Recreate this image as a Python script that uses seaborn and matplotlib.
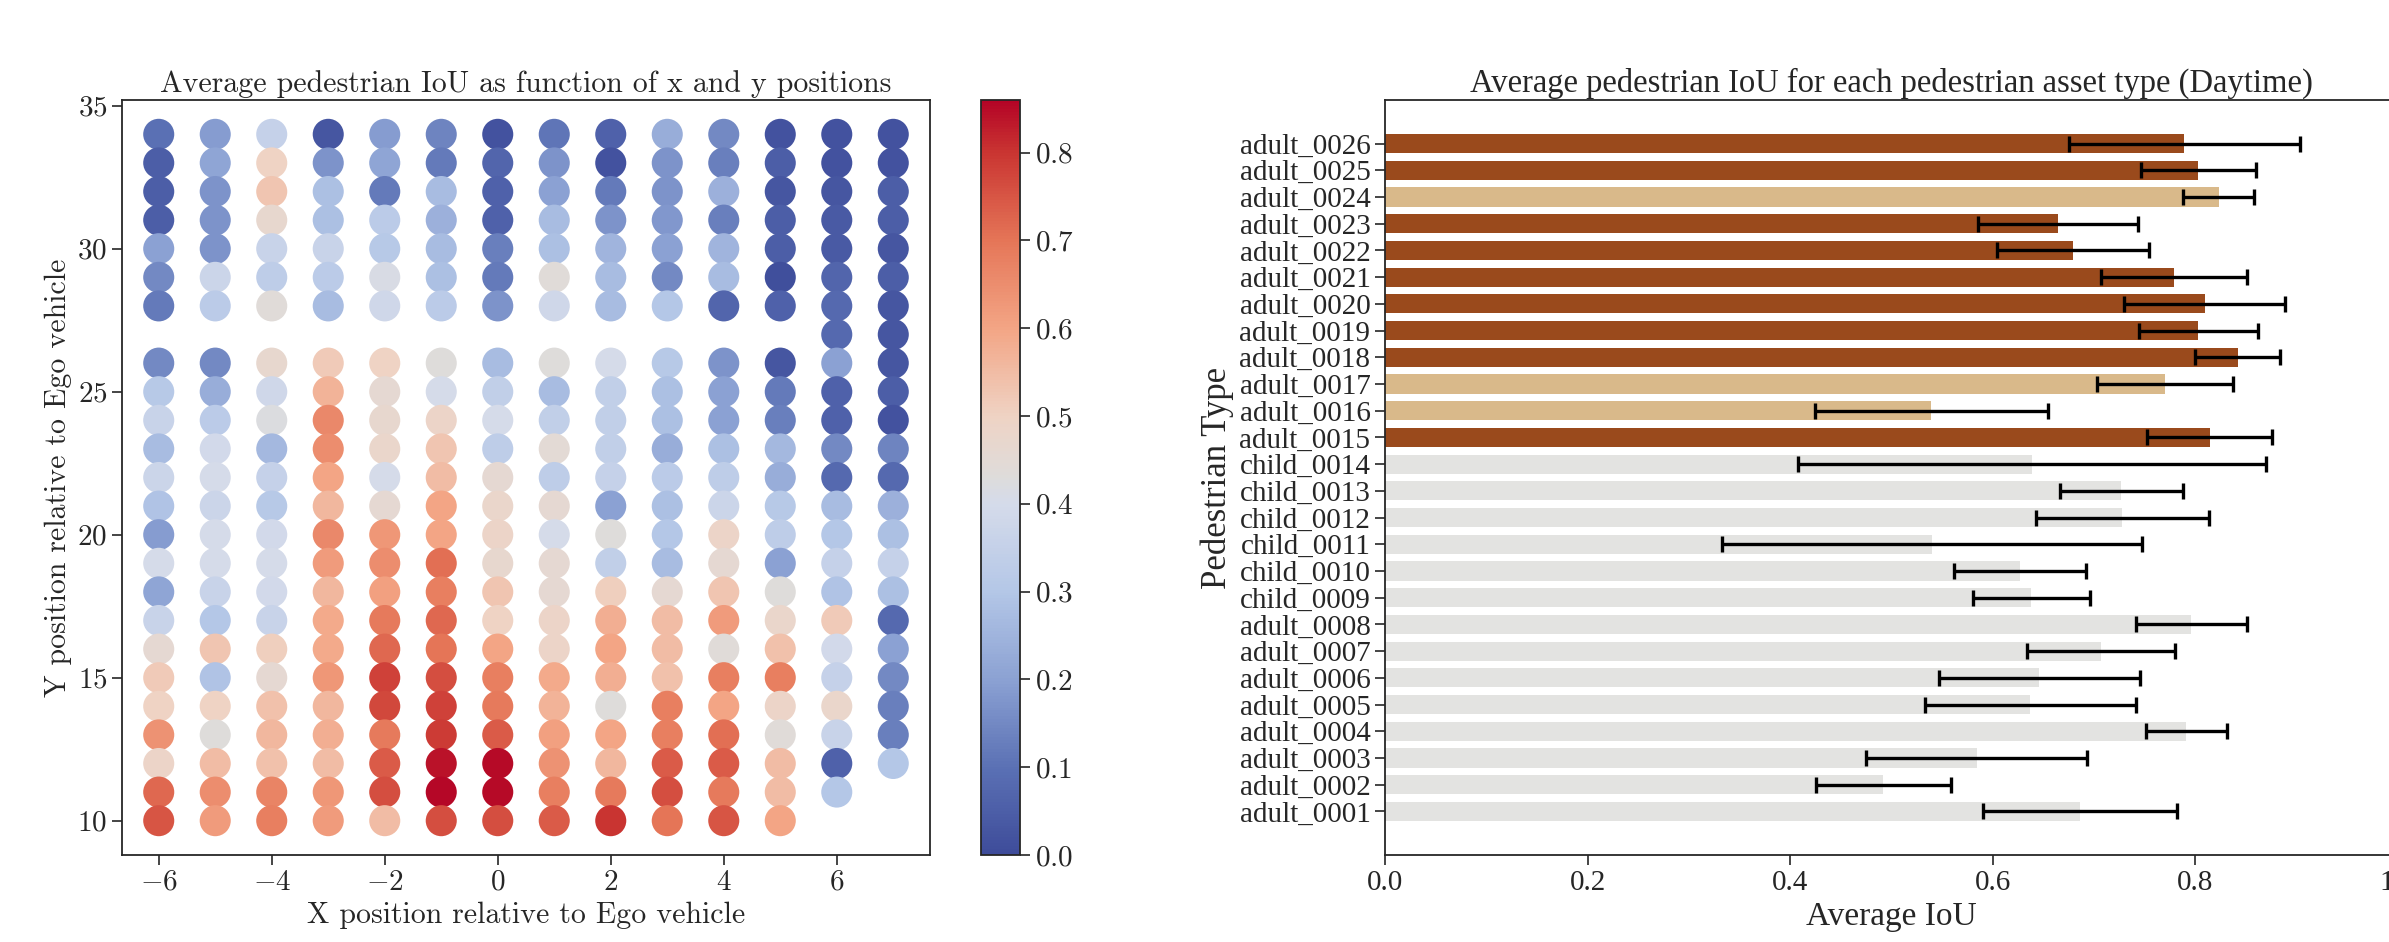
import numpy as np
import pandas as pd
import matplotlib
matplotlib.use('Agg')
import matplotlib.pyplot as plt
from matplotlib.ticker import FuncFormatter, MultipleLocator
from matplotlib.colors import Normalize, LinearSegmentedColormap
from matplotlib.cm import ScalarMappable
import seaborn as sns

nan = np.nan

# ---- left panel: average IoU on the x/y grid ----
x_positions = list(range(-6, 8))
y_positions = [34, 33, 32, 31, 30, 29, 28, 27, 26, 25, 24, 23, 22, 21, 20, 19, 18, 17, 16, 15, 14, 13, 12, 11, 10]

# one list per x column, top (y=34) to bottom (y=10); nan = no sample there
iou_xm6 = [0.10, 0.05, 0.05, 0.05, 0.20, 0.15, 0.12, nan, 0.15, 0.31, 0.36, 0.27, 0.37, 0.29, 0.19, 0.40, 0.21, 0.36, 0.46, 0.52, 0.50, 0.64, 0.49, 0.72, 0.75]
iou_xm5 = [0.19, 0.21, 0.17, 0.17, 0.17, 0.37, 0.32, nan, 0.15, 0.23, 0.32, 0.39, 0.40, 0.37, 0.40, 0.40, 0.36, 0.30, 0.53, 0.29, 0.50, 0.43, 0.55, 0.65, 0.62]
iou_xm4 = [0.35, 0.50, 0.53, 0.47, 0.36, 0.33, 0.44, nan, 0.47, 0.38, 0.42, 0.26, 0.35, 0.31, 0.39, 0.40, 0.39, 0.36, 0.51, 0.46, 0.54, 0.56, 0.54, 0.67, 0.68]
iou_xm3 = [0.03, 0.17, 0.28, 0.28, 0.36, 0.32, 0.27, nan, 0.52, 0.57, 0.66, 0.65, 0.60, 0.56, 0.66, 0.62, 0.56, 0.59, 0.59, 0.63, 0.56, 0.58, 0.55, 0.63, 0.62]
iou_xm2 = [0.19, 0.21, 0.12, 0.32, 0.31, 0.41, 0.38, nan, 0.50, 0.46, 0.47, 0.48, 0.40, 0.46, 0.63, 0.65, 0.61, 0.69, 0.72, 0.78, 0.77, 0.69, 0.74, 0.76, 0.55]
iou_xm1 = [0.14, 0.12, 0.27, 0.24, 0.27, 0.28, 0.32, nan, 0.43, 0.40, 0.49, 0.53, 0.55, 0.60, 0.60, 0.71, 0.68, 0.72, 0.70, 0.76, 0.78, 0.79, 0.84, 0.855, 0.76]
iou_x0 = [0.02, 0.07, 0.06, 0.06, 0.13, 0.12, 0.17, nan, 0.27, 0.34, 0.40, 0.33, 0.46, 0.48, 0.49, 0.47, 0.53, 0.50, 0.60, 0.68, 0.69, 0.74, 0.85, 0.85, 0.76]
iou_x1 = [0.11, 0.17, 0.20, 0.27, 0.28, 0.44, 0.38, nan, 0.43, 0.27, 0.34, 0.45, 0.33, 0.46, 0.40, 0.46, 0.46, 0.49, 0.49, 0.59, 0.57, 0.61, 0.64, 0.68, 0.74]
iou_x2 = [0.06, 0.02, 0.12, 0.17, 0.25, 0.27, 0.27, nan, 0.40, 0.34, 0.34, 0.34, 0.35, 0.20, 0.43, 0.34, 0.51, 0.58, 0.60, 0.58, 0.43, 0.60, 0.56, 0.69, 0.80]
iou_x3 = [0.23, 0.17, 0.17, 0.18, 0.20, 0.15, 0.30, nan, 0.31, 0.28, 0.28, 0.23, 0.32, 0.28, 0.30, 0.27, 0.46, 0.55, 0.55, 0.54, 0.68, 0.68, 0.74, 0.76, 0.70]
iou_x4 = [0.15, 0.13, 0.24, 0.13, 0.25, 0.27, 0.07, nan, 0.17, 0.20, 0.20, 0.28, 0.33, 0.37, 0.49, 0.46, 0.53, 0.62, 0.44, 0.68, 0.60, 0.71, 0.74, 0.69, 0.75]
iou_x5 = [0.02, 0.05, 0.03, 0.05, 0.05, 0.01, 0.06, nan, 0.03, 0.12, 0.13, 0.26, 0.23, 0.31, 0.33, 0.20, 0.43, 0.48, 0.54, 0.68, 0.49, 0.44, 0.55, 0.55, 0.60]
iou_x6 = [0.02, 0.02, 0.03, 0.04, 0.04, 0.07, 0.08, 0.08, 0.20, 0.06, 0.06, 0.15, 0.08, 0.27, 0.30, 0.35, 0.29, 0.52, 0.39, 0.35, 0.48, 0.36, 0.06, 0.30, nan]
iou_x7 = [0.02, 0.02, 0.05, 0.05, 0.03, 0.05, 0.03, 0.03, 0.03, 0.05, 0.02, 0.14, 0.08, 0.24, 0.28, 0.35, 0.28, 0.08, 0.20, 0.15, 0.13, 0.13, 0.30, nan, nan]

iou_columns = [iou_xm6, iou_xm5, iou_xm4, iou_xm3, iou_xm2, iou_xm1, iou_x0,
               iou_x1, iou_x2, iou_x3, iou_x4, iou_x5, iou_x6, iou_x7]
iou_max = 0.86

# ---- right panel: IoU per pedestrian asset ----
asset_names = ['adult_0026', 'adult_0025', 'adult_0024', 'adult_0023', 'adult_0022', 'adult_0021',
               'adult_0020', 'adult_0019', 'adult_0018', 'adult_0017', 'adult_0016', 'adult_0015',
               'child_0014', 'child_0013', 'child_0012', 'child_0011', 'child_0010', 'child_0009',
               'adult_0008', 'adult_0007', 'adult_0006', 'adult_0005', 'adult_0004', 'adult_0003',
               'adult_0002', 'adult_0001']
asset_iou = [0.789, 0.803, 0.823, 0.664, 0.679, 0.779, 0.809, 0.803, 0.842, 0.770, 0.539, 0.814,
             0.639, 0.727, 0.728, 0.540, 0.627, 0.638, 0.796, 0.707, 0.646, 0.637, 0.791, 0.584,
             0.492, 0.686]
asset_err = [0.114, 0.057, 0.035, 0.079, 0.075, 0.072, 0.079, 0.059, 0.042, 0.067, 0.115, 0.062,
             0.231, 0.061, 0.085, 0.207, 0.065, 0.058, 0.055, 0.073, 0.099, 0.104, 0.040, 0.109,
             0.067, 0.096]
asset_group = ['dark', 'dark', 'tan', 'dark', 'dark', 'dark', 'dark', 'dark', 'dark', 'tan', 'tan', 'dark',
               'light', 'light', 'light', 'light', 'light', 'light', 'light', 'light', 'light', 'light',
               'light', 'light', 'light', 'light']
group_colors = {'dark': '#9a4a1c', 'tan': '#d9b98a', 'light': '#e3e3e1'}

# muted coolwarm, as printed in the figure
iou_cmap = LinearSegmentedColormap.from_list('muted_coolwarm', [
    (0.0, '#3e4c9a'), (0.116, '#5b71b5'), (0.233, '#8ca2d3'), (0.349, '#b4c7e7'),
    (0.465, '#d5dbea'), (0.5, '#dedcdb'), (0.581, '#efd3c4'), (0.698, '#f3a585'),
    (0.814, '#e57658'), (0.93, '#ca3632'), (1.0, '#b40426')])

sns.set_style('ticks')
plt.rcParams['font.family'] = 'serif'
plt.rcParams['font.serif'] = ['Liberation Serif', 'DejaVu Serif']
plt.rcParams['mathtext.fontset'] = 'cm'

W, H = 2389, 942
fig = plt.figure(figsize=(W / 100, H / 100), dpi=100)

def frac(x0, x1, y_top, y_bot):
    return [x0 / W, 1 - y_bot / H, (x1 - x0) / W, (y_bot - y_top) / H]

ax1 = fig.add_axes(frac(122, 930, 100, 855))
cax = fig.add_axes(frac(981, 1020, 100, 855))
ax2 = fig.add_axes(frac(1385, 2398, 100, 855))

# ---- left scatter ----
rows = []
for xv, col in zip(x_positions, iou_columns):
    for yv, v in zip(y_positions, col):
        if not np.isnan(v):
            rows.append({'x': xv, 'y': yv, 'iou': v})
grid_df = pd.DataFrame(rows)

sns.scatterplot(data=grid_df, x='x', y='y', hue='iou', palette=iou_cmap,
                hue_norm=(0, iou_max), s=500, linewidth=0, legend=False, ax=ax1)

cm_fmt = FuncFormatter(lambda v, p: '$%g$' % v)
ax1.xaxis.set_major_locator(MultipleLocator(2))
ax1.yaxis.set_major_locator(MultipleLocator(5))
ax1.xaxis.set_major_formatter(cm_fmt)
ax1.yaxis.set_major_formatter(cm_fmt)
ax1.tick_params(labelsize=21, length=7, width=1.2)
for sp in ax1.spines.values():
    sp.set_linewidth(1.3)
ax1.set_title('Average pedestrian IoU as function of x and y positions', fontsize=21.5,
              fontfamily='cmr10')
ax1.set_xlabel('X position relative to Ego vehicle', fontsize=21.5, fontfamily='cmr10')
ax1.set_ylabel('Y position relative to Ego vehicle', fontsize=21.5, fontfamily='cmr10')

sm = ScalarMappable(norm=Normalize(0, iou_max), cmap=iou_cmap)
cb = fig.colorbar(sm, cax=cax)
cb.set_ticks(np.arange(0, 0.81, 0.1))
cb.ax.yaxis.set_major_formatter(FuncFormatter(lambda v, p: '$%.1f$' % v))
cb.ax.tick_params(labelsize=21, length=7, width=1.2)
cb.outline.set_linewidth(1.3)

# ---- right bars ----
bar_df = pd.DataFrame({'asset': asset_names, 'iou': asset_iou, 'group': asset_group})
sns.barplot(data=bar_df, y='asset', x='iou', hue='group', palette=group_colors,
            order=asset_names, dodge=False, width=0.72, errorbar=None, legend=False,
            saturation=1, linewidth=0, ax=ax2)
ax2.errorbar(asset_iou, np.arange(len(asset_names)), xerr=asset_err, fmt='none',
             ecolor='black', elinewidth=2.4, capsize=5.5, capthick=2.4)
ax2.set_xlim(0, 1.0)
ax2.set_ylim(len(asset_names) - 1 + 1.63, -1.63)
ax2.xaxis.set_major_locator(MultipleLocator(0.2))
ax2.xaxis.set_major_formatter(FuncFormatter(lambda v, p: '%.1f' % v))
ax2.tick_params(labelsize=21, length=7, width=1.2)
for sp in ax2.spines.values():
    sp.set_linewidth(1.3)
ax2.set_title('Average pedestrian IoU for each pedestrian asset type (Daytime)', fontsize=23.5)
ax2.set_xlabel('Average IoU', fontsize=24)
ax2.set_ylabel('Pedestrian Type', fontsize=25)

fig.savefig('out.png', dpi=100)
